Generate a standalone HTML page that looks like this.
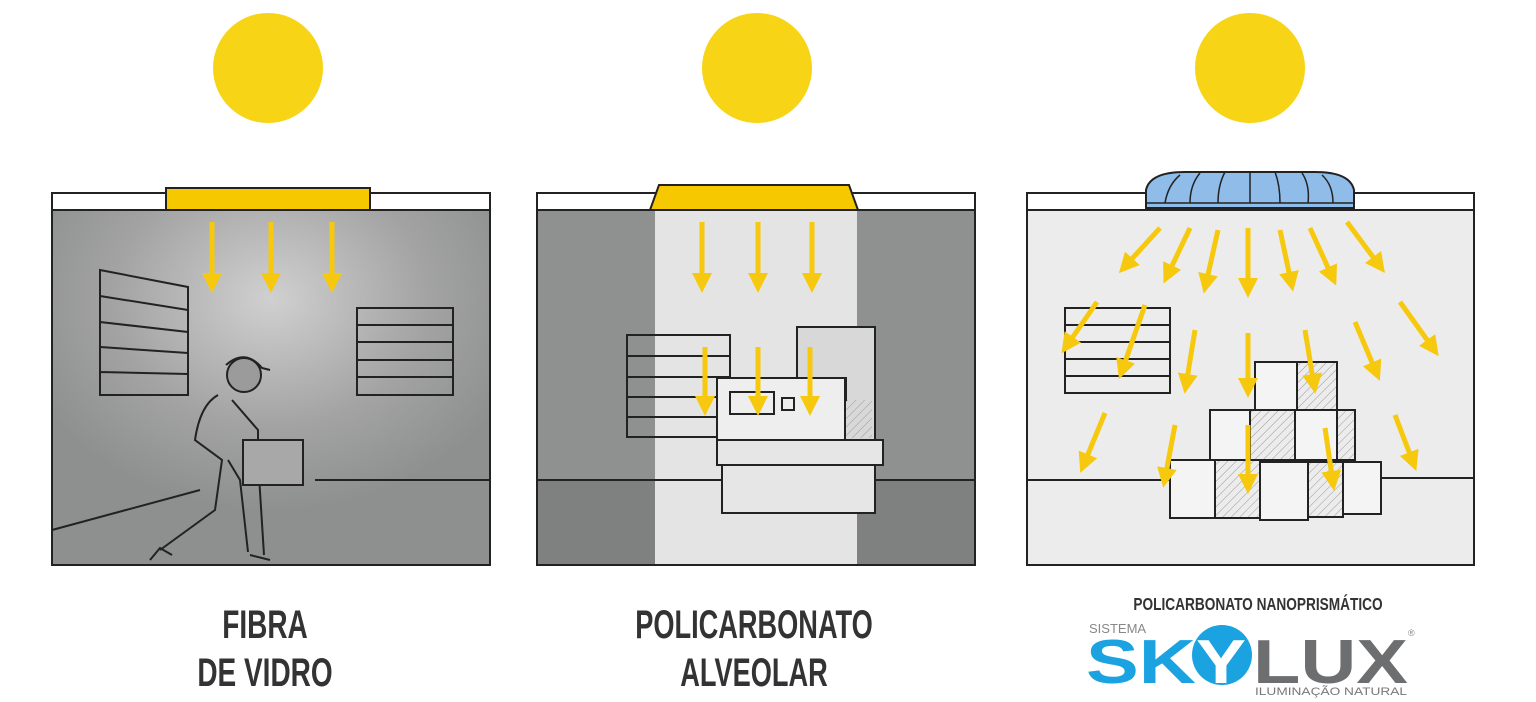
<!DOCTYPE html>
<html><head><meta charset="utf-8"><style>
html,body{margin:0;padding:0;background:#fff;width:1536px;height:702px;overflow:hidden}
svg{display:block}
.t{font-family:"Liberation Sans",sans-serif;font-weight:bold;fill:#333}
</style></head><body>
<svg width="1536" height="702" viewBox="0 0 1536 702" xmlns="http://www.w3.org/2000/svg">
<defs>
<marker id="ah" markerWidth="4" markerHeight="4" refX="1" refY="2" orient="auto" markerUnits="strokeWidth"><path d="M0,0 L4,2 L0,4 z" fill="#f6c90e"/></marker>
<radialGradient id="g1" cx="0.5" cy="0.25" r="0.6"><stop offset="0" stop-color="#d0d0d0"/><stop offset="0.6" stop-color="#a2a3a2"/><stop offset="1" stop-color="#8e908f"/></radialGradient>
<pattern id="hat" width="6" height="6" patternUnits="userSpaceOnUse" patternTransform="rotate(45)"><line x1="0" y1="0" x2="0" y2="6" stroke="#999" stroke-width="1"/></pattern>
</defs>
<g fill="#f8d417"><circle cx="268" cy="68" r="55"/><circle cx="757" cy="68" r="55"/><circle cx="1250" cy="68" r="55"/></g>

<!-- Panel 1 -->
<rect x="52" y="210" width="438" height="355" fill="url(#g1)"/>
<rect x="52" y="193" width="438" height="17" fill="#fff" stroke="#222" stroke-width="2"/>
<rect x="52" y="193" width="438" height="372" fill="none" stroke="#222" stroke-width="2"/>
<rect x="166" y="188" width="204" height="22" fill="#f5c800" stroke="#222" stroke-width="2"/>
<g stroke="#222" stroke-width="2" fill="none">
<path d="M100 270 L188 287 L188 395 L100 395 Z M100 296 L188 310 M100 322 L188 332 M100 347 L188 353 M100 372 L188 374"/>
<path d="M357 308 H453 V395 H357 Z M357 325 H453 M357 342 H453 M357 360 H453 M357 377 H453"/>
<path d="M52 530 L200 490 M315 480 H490"/>
<circle cx="244" cy="375" r="17" fill="#9a9b9a"/>
<path d="M226 365 Q245 348 262 368 L270 370" />
<path d="M218 395 Q200 405 195 440 L222 460 L215 510 L160 550 M232 400 L258 430 L258 460 L264 555 M228 460 L240 480 L248 552"/>
<rect x="243" y="440" width="60" height="45" fill="#a7a8a7"/>
<path d="M150 560 L160 548 L172 555 M250 555 L270 560"/>
</g>

<!-- Panel 2 -->
<rect x="537" y="210" width="438" height="355" fill="#8f9190"/>
<rect x="537" y="480" width="438" height="85" fill="#7f8180"/>
<rect x="655" y="210" width="202" height="355" fill="#e4e4e4"/>
<rect x="537" y="193" width="438" height="17" fill="#fff" stroke="#222" stroke-width="2"/>
<rect x="537" y="193" width="438" height="372" fill="none" stroke="#222" stroke-width="2"/>
<path d="M650 210 L659 185 H849 L858 210 Z" fill="#f5c800" stroke="#222" stroke-width="2"/>
<g stroke="#222" stroke-width="2" fill="none">
<path d="M537 480 H975"/>
<path d="M627 335 H730 V437 H627 Z M627 356 H730 M627 377 H730 M627 397 H730 M627 417 H730"/>
<rect x="797" y="327" width="78" height="113" fill="#d8d8d8"/>
<rect x="800" y="400" width="72" height="38" fill="url(#hat)" stroke="none"/>
<rect x="822" y="378" width="24" height="22" fill="#fff"/><path d="M834 378 V400 M822 389 H846"/>
<rect x="717" y="378" width="128" height="64" fill="#eee"/>
<rect x="730" y="392" width="44" height="22"/><rect x="782" y="398" width="12" height="12"/>
<rect x="717" y="440" width="166" height="25" fill="#e6e6e6"/>
<rect x="722" y="465" width="153" height="48" fill="#e6e6e6"/>
</g>

<!-- Panel 3 -->
<rect x="1027" y="210" width="447" height="355" fill="#ececec"/>
<rect x="1027" y="193" width="447" height="17" fill="#fff" stroke="#222" stroke-width="2"/>
<rect x="1027" y="193" width="447" height="372" fill="none" stroke="#222" stroke-width="2"/>
<path d="M1146 208 V190 Q1150 172 1185 172 H1315 Q1350 172 1354 190 V208 Z" fill="#8fbce8" stroke="#222" stroke-width="2"/>
<g stroke="#222" stroke-width="1.5" fill="none"><path d="M1146 203 H1354 M1165 203 Q1168 185 1180 175 M1190 203 Q1190 185 1200 173 M1218 203 Q1218 185 1225 172 M1250 203 V172 M1280 203 Q1280 185 1275 172 M1308 203 Q1310 185 1302 173 M1333 203 Q1333 185 1322 175"/></g>
<g stroke="#222" stroke-width="2" fill="none">
<path d="M1027 480 H1180 M1380 478 H1474"/>
<path d="M1065 308 H1170 V393 H1065 Z M1065 325 H1170 M1065 342 H1170 M1065 359 H1170 M1065 376 H1170"/>
</g>
<g stroke="#222" stroke-width="2" fill="#f4f4f4">
<rect x="1255" y="362" width="42" height="48"/><rect x="1297" y="362" width="40" height="48" fill="url(#hat)"/>
<rect x="1210" y="410" width="40" height="50"/><rect x="1250" y="410" width="45" height="50" fill="url(#hat)"/><rect x="1295" y="410" width="42" height="50"/><rect x="1337" y="410" width="18" height="50" fill="url(#hat)"/>
<rect x="1170" y="460" width="45" height="58"/><rect x="1215" y="460" width="45" height="58" fill="url(#hat)"/><rect x="1260" y="462" width="48" height="58"/><rect x="1308" y="462" width="35" height="55" fill="url(#hat)"/><rect x="1343" y="462" width="38" height="52"/>
</g>

<!-- arrows -->
<g stroke="#f6c90e" stroke-width="5" fill="none" marker-end="url(#ah)">
<line x1="212" y1="222" x2="212" y2="278"/><line x1="271" y1="222" x2="271" y2="278"/><line x1="332" y1="222" x2="332" y2="278"/>
<line x1="702" y1="222" x2="702" y2="278"/><line x1="758" y1="222" x2="758" y2="278"/><line x1="812" y1="222" x2="812" y2="278"/>
<line x1="705" y1="347" x2="705" y2="401"/><line x1="758" y1="347" x2="758" y2="401"/><line x1="810" y1="347" x2="810" y2="401"/>
<line x1="1160" y1="228" x2="1129" y2="262"/><line x1="1190" y1="228" x2="1170" y2="270"/><line x1="1218" y1="230" x2="1207" y2="279"/><line x1="1248" y1="228" x2="1248" y2="283"/><line x1="1280" y1="230" x2="1290" y2="277"/><line x1="1310" y1="228" x2="1330" y2="272"/><line x1="1347" y1="222" x2="1376" y2="261"/>
<line x1="1097" y1="302" x2="1070" y2="341"/><line x1="1145" y1="305" x2="1124" y2="365"/><line x1="1195" y1="330" x2="1187" y2="379"/><line x1="1248" y1="333" x2="1248" y2="383"/><line x1="1305" y1="330" x2="1313" y2="379"/><line x1="1355" y1="322" x2="1374" y2="367"/><line x1="1400" y1="302" x2="1430" y2="344"/>
<line x1="1105" y1="413" x2="1086" y2="459"/><line x1="1175" y1="425" x2="1166" y2="473"/><line x1="1248" y1="425" x2="1248" y2="479"/><line x1="1325" y1="428" x2="1332" y2="476"/><line x1="1395" y1="415" x2="1411" y2="457"/>
</g>

<!-- labels -->
<g transform="translate(265,0) scale(0.7,1)">
<text class="t" x="0" y="638" font-size="40" text-anchor="middle">FIBRA</text>
<text class="t" x="0" y="686" font-size="40" text-anchor="middle">DE VIDRO</text>
</g>
<g transform="translate(754,0) scale(0.68,1)">
<text class="t" x="0" y="638" font-size="40" text-anchor="middle">POLICARBONATO</text>
<text class="t" x="0" y="686" font-size="40" text-anchor="middle">ALVEOLAR</text>
</g>
<g transform="translate(1258,0) scale(0.76,1)">
<text class="t" x="0" y="610" font-size="18" text-anchor="middle">POLICARBONATO NANOPRISMÁTICO</text>
</g>
<text x="1089" y="633" font-family="Liberation Sans,sans-serif" font-size="13" fill="#888">SISTEMA</text>
<text x="1408" y="636" font-family="Liberation Sans,sans-serif" font-size="9" fill="#888">®</text>
<circle cx="1222" cy="655" r="30" fill="#1aa3e0"/>
<text x="1086" y="683" font-family="Liberation Sans,sans-serif" font-weight="bold" font-size="62" fill="#1aa3e0" textLength="110" lengthAdjust="spacingAndGlyphs">SK</text>
<text x="1196" y="683" font-family="Liberation Sans,sans-serif" font-weight="bold" font-size="62" fill="#fff" textLength="50" lengthAdjust="spacingAndGlyphs">Y</text>
<text x="1253" y="683" font-family="Liberation Sans,sans-serif" font-weight="bold" font-size="62" fill="#6d6e70" textLength="155" lengthAdjust="spacingAndGlyphs">LUX</text>
<text x="1255" y="695" font-family="Liberation Sans,sans-serif" font-size="11" fill="#777" textLength="152" lengthAdjust="spacingAndGlyphs">ILUMINAÇÃO NATURAL</text>
</svg>
</body></html>
